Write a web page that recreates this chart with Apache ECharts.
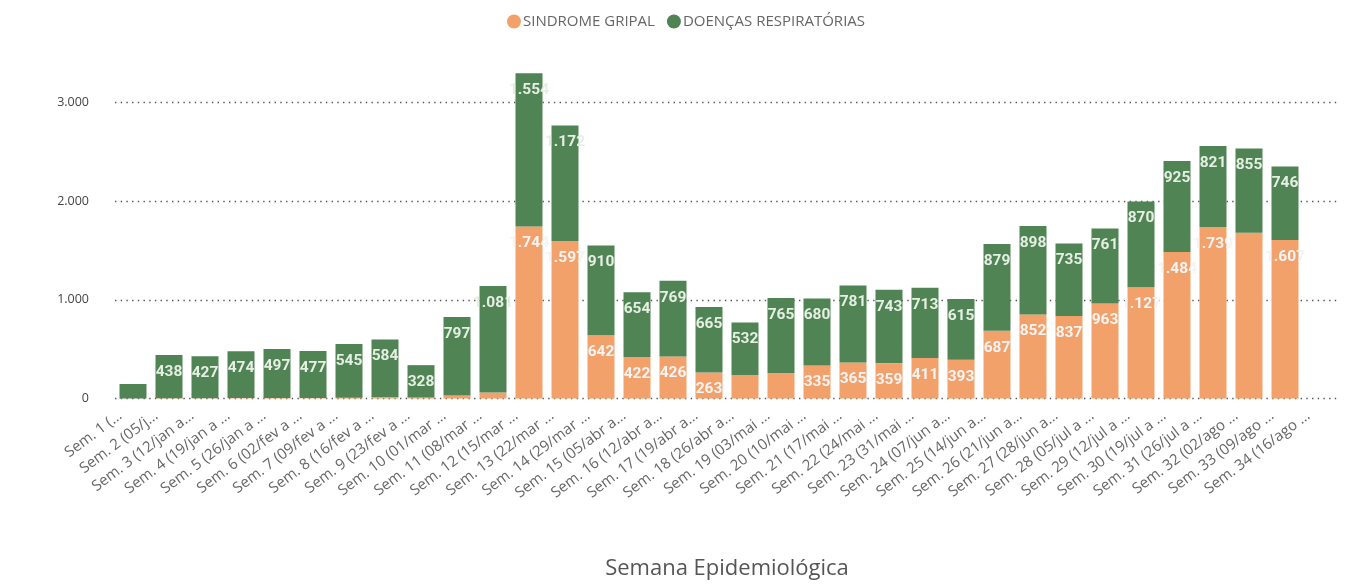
<!DOCTYPE html>
<html>
<head>
<meta charset="utf-8">
<script src="https://cdn.jsdelivr.net/npm/echarts@6/dist/echarts.min.js"></script>
<style>
  html, body { margin: 0; padding: 0; background: #fff; }
  #chart { width: 1350px; height: 587px; }
</style>
</head>
<body>
<div id="chart"></div>
<script>
// semanas epidemiológicas (rótulos como aparecem no eixo)
const semanas = [
  'Sem. 1 (…', 'Sem. 2 (05/j…', 'Sem. 3 (12/jan a…', 'Sem. 4 (19/jan a …',
  'Sem. 5 (26/jan a …', 'Sem. 6 (02/fev a …', 'Sem. 7 (09/fev a …', 'Sem. 8 (16/fev a …',
  'Sem. 9 (23/fev a …', 'Sem. 10 (01/mar …', 'Sem. 11 (08/mar …', 'Sem. 12 (15/mar …',
  'Sem. 13 (22/mar …', 'Sem. 14 (29/mar …', 'Sem. 15 (05/abr a…', 'Sem. 16 (12/abr a…',
  'Sem. 17 (19/abr a…', 'Sem. 18 (26/abr a…', 'Sem. 19 (03/mai …', 'Sem. 20 (10/mai …',
  'Sem. 21 (17/mai …', 'Sem. 22 (24/mai …', 'Sem. 23 (31/mai …', 'Sem. 24 (07/jun a…',
  'Sem. 25 (14/jun a…', 'Sem. 26 (21/jun a…', 'Sem. 27 (28/jun a…', 'Sem. 28 (05/jul a …',
  'Sem. 29 (12/jul a …', 'Sem. 30 (19/jul a …', 'Sem. 31 (26/jul a …', 'Sem. 32 (02/ago …',
  'Sem. 33 (09/ago …', 'Sem. 34 (16/ago …'
]

// síndrome gripal
const sindromeGripal = [
  0, 3, 2, 4, 5, 4, 8, 15, 10, 30, 60, 1744,
  1597, 642, 422, 426, 263, 238, 255, 335, 365, 359, 411, 393,
  687, 852, 837, 963, 1127, 1484, 1739, 1680, 1607, null
]

// doenças respiratórias
const doencasRespiratorias = [
  147, 438, 427, 474, 497, 477, 545, 584, 328, 797, 1081, 1554,
  1172, 910, 654, 769, 665, 532, 765, 680, 781, 743, 713, 615,
  879, 898, 735, 761, 870, 925, 821, 855, 746, null
]

// semanas cujo rótulo de síndrome gripal não aparece
const semSemRotuloGripal = [32]

const yTicks = [0, 1000, 2000, 3000]

const fmt = v => String(v).replace(/\B(?=(\d{3})+(?!\d))/g, '.')

const chart = echarts.init(document.getElementById('chart'))

const rotulo = {
  show: true,
  position: 'insideTop',
  distance: 9,
  color: '#f4f4f4',
  fontFamily: 'Roboto',
  fontWeight: 'bold',
  fontSize: 15.5,
  formatter: p => (p.value == null || p.value < 260) ? '' : fmt(p.value)
}

const option = {
  animation: false,
  legend: {
    top: 9,
    left: 502,
    icon: 'circle',
    itemWidth: 14,
    itemHeight: 14,
    itemGap: 12,
    textStyle: { color: '#666', fontSize: 15, fontFamily: 'Open Sans', padding: [0, 0, 0, -3] },
    data: ['SINDROME GRIPAL', 'DOENÇAS RESPIRATÓRIAS']
  },
  grid: { left: 115, width: 1224, top: 73, bottom: 188.5 },
  xAxis: {
    type: 'category',
    data: semanas,
    axisLine: { show: false },
    axisTick: { show: false },
    axisLabel: {
      interval: 0,
      rotate: 37,
      margin: 6,
      padding: [0, 16, 0, 0],
      color: '#666',
      fontSize: 15,
      fontFamily: 'Open Sans'
    },
    name: 'Semana Epidemiológica',
    nameLocation: 'middle',
    nameGap: 159,
    nameTextStyle: { color: '#555', fontSize: 22, fontFamily: 'Open Sans' }
  },
  yAxis: {
    type: 'value',
    min: yTicks[0],
    max: 3300,
    interval: 1000,
    axisLine: { show: false },
    axisTick: { show: false },
    axisLabel: {
      showMaxLabel: false,
      margin: 26,
      color: '#444',
      fontSize: 12.5,
      fontFamily: 'Open Sans',
      formatter: v => fmt(v)
    },
    splitLine: {
      showMaxLine: false,
      lineStyle: { color: '#555', width: 1.4, type: [1.4, 4.3] }
    }
  },
  series: [
    {
      name: 'SINDROME GRIPAL',
      type: 'bar',
      stack: 'total',
      barWidth: 27,
      itemStyle: { color: '#F2A16B' },
      label: rotulo,
      data: sindromeGripal.map((v, i) =>
        semSemRotuloGripal.includes(i + 1) ? { value: v, label: { show: false } } : v)
    },
    {
      name: 'DOENÇAS RESPIRATÓRIAS',
      type: 'bar',
      stack: 'total',
      barWidth: 27,
      itemStyle: { color: '#508454' },
      label: Object.assign({}, rotulo, { color: '#e6efe3' }),
      data: doencasRespiratorias
    }
  ]
}

chart.setOption(option)
</script>
</body>
</html>
